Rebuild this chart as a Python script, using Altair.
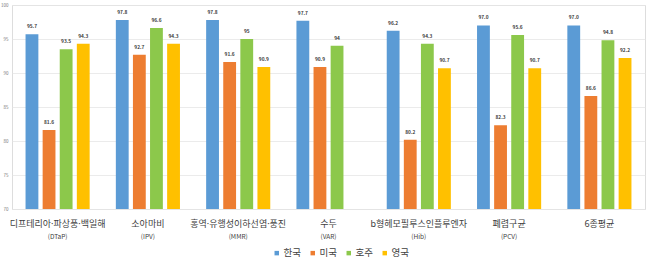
import altair as alt
import pandas as pd

categories = ["디프테리아·파상풍·백일해", "소아마비", "홍역·유행성이하선염·풍진", "수두",
              "b형헤모필루스인플루엔자", "폐렴구균", "6종평균"]
abbrs = ["(DTaP)", "(IPV)", "(MMR)", "(VAR)", "(Hib)", "(PCV)", ""]
countries = ["한국", "미국", "호주", "영국"]
korea = ["95.7", "97.8", "97.8", "97.7", "96.2", "97.0", "97.0"]
usa = ["81.6", "92.7", "91.6", "90.9", "80.2", "82.3", "86.6"]
australia = ["93.5", "96.6", "95", "94", "94.3", "95.6", "94.8"]
uk = ["94.3", "94.3", "90.9", None, "90.7", "90.7", "92.2"]
colors = ["#5B9BD5", "#ED7D31", "#8CC84B", "#FFC000"]
y_ticks = [70, 75, 80, 85, 90, 95, 100]

rows = []
for series, name in zip([korea, usa, australia, uk], countries):
    for cat, v in zip(categories, series):
        if v is not None:
            rows.append({"cat": cat, "country": name, "value": float(v), "label": v})
df = pd.DataFrame(rows)
abbr_df = pd.DataFrame({"cat": categories, "abbr": abbrs})

FONT = "Noto Sans CJK KR"
LABEL_FONT = "Noto Sans, Noto Sans CJK KR"

x_enc = alt.X("cat:N", sort=categories,
              scale=alt.Scale(paddingInner=0.29, paddingOuter=0.15),
              axis=alt.Axis(title=None, labelFont=LABEL_FONT, labelFontSize=9, labelColor="#404040",
                            labelAngle=0, labelPadding=10, ticks=False, domain=False, labelLimit=200))
xo = alt.XOffset("country:N", sort=countries,
                 scale=alt.Scale(domain=countries, paddingInner=0.25))
y_enc = alt.Y("value:Q", scale=alt.Scale(domain=[70, 100], zero=False, clamp=True, nice=False),
              axis=alt.Axis(title=None, values=y_ticks, labelFontSize=4.5, labelColor="#777777",
                            labelFont=FONT, gridColor="#E6E6E6", gridWidth=0.8,
                            labelOverlap=False, labelBound=False, labelFlush=False,
                            domain=False, ticks=False, labelPadding=4))

bars = alt.Chart(df).mark_bar().encode(
    x=x_enc, xOffset=xo, y=y_enc,
    color=alt.Color("country:N", sort=countries,
                    scale=alt.Scale(domain=countries, range=colors),
                    legend=alt.Legend(title=None, orient="none", direction="horizontal",
                                      legendX=260, legendY=243, symbolType="square",
                                      symbolSize=20, symbolStrokeWidth=0,
                                      labelFont=FONT, labelFontSize=9.5, labelColor="#404040",
                                      columnPadding=7, symbolOffset=0, labelOffset=2))
)

texts = alt.Chart(df).mark_text(dy=-5, fontSize=4.8, fontWeight="bold", color="#404040",
                                font=FONT, baseline="bottom").encode(
    x=x_enc, xOffset=xo, y=y_enc, text="label:N")

abbr_text = alt.Chart(abbr_df).mark_text(fontSize=6.5, color="#404040", font=FONT,
                                         baseline="middle").encode(
    x=x_enc, y=alt.value(232), text="abbr:N")

chart = alt.layer(bars, texts, abbr_text).properties(
    width=633, height=204,
    autosize=alt.AutoSizeParams(type="none"),
    padding={"left": 12, "top": 5, "right": 5, "bottom": 52},
).configure_view(stroke=None).configure(background="white")

chart.save("out.html", embed_options={"renderer": "svg", "actions": False})
